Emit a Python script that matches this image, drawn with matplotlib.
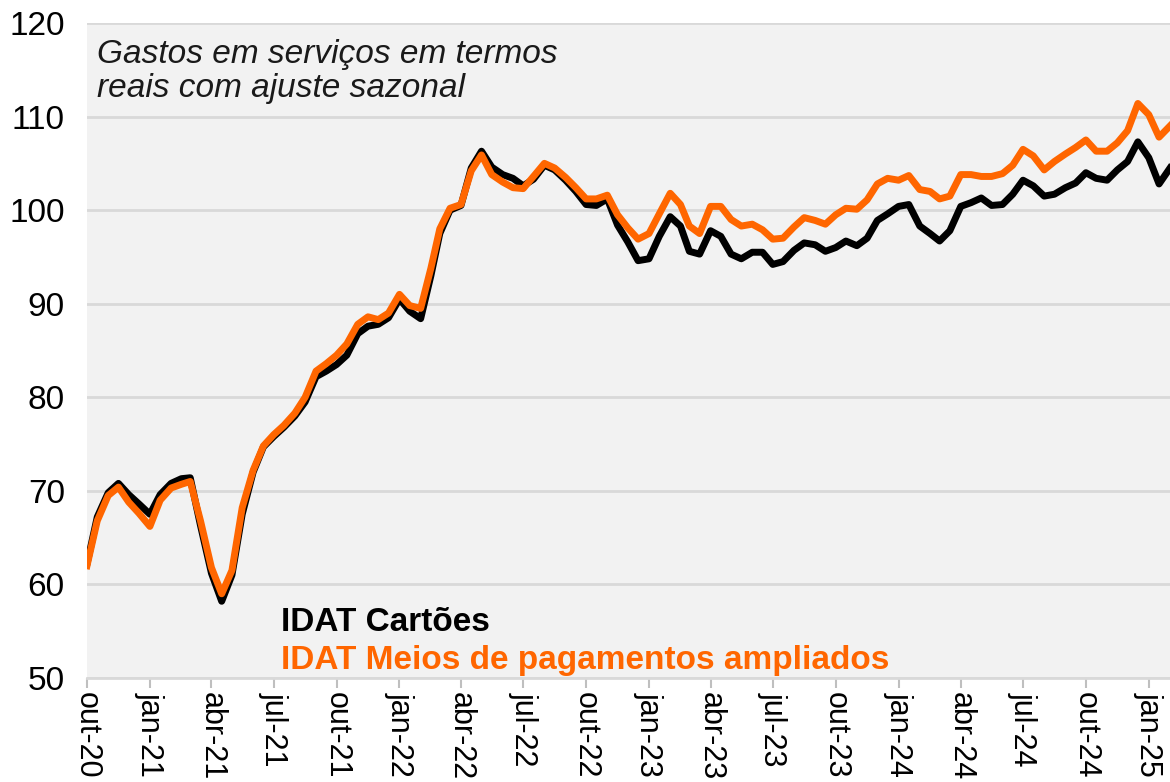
import matplotlib
matplotlib.use("Agg")
import matplotlib.pyplot as plt
import numpy as np
import pandas as pd

# ---- data ----
dates = pd.to_datetime([
    "2020-10-01", "2020-10-16", "2020-11-01", "2020-11-16", "2020-12-01", "2020-12-16",
    "2021-01-01", "2021-01-16", "2021-02-01", "2021-02-16", "2021-03-01", "2021-03-16",
    "2021-04-01", "2021-04-16", "2021-05-01", "2021-05-16", "2021-06-01", "2021-06-16",
    "2021-07-01", "2021-07-16", "2021-08-01", "2021-08-16", "2021-09-01", "2021-09-16",
    "2021-10-01", "2021-10-16", "2021-11-01", "2021-11-16", "2021-12-01", "2021-12-16",
    "2022-01-01", "2022-01-16", "2022-02-01", "2022-02-16", "2022-03-01", "2022-03-16",
    "2022-04-01", "2022-04-16", "2022-05-01", "2022-05-16", "2022-06-01", "2022-06-16",
    "2022-07-01", "2022-07-16", "2022-08-01", "2022-08-16", "2022-09-01", "2022-09-16",
    "2022-10-01", "2022-10-16", "2022-11-01", "2022-11-16", "2022-12-01", "2022-12-16",
    "2023-01-01", "2023-01-16", "2023-02-01", "2023-02-16", "2023-03-01", "2023-03-16",
    "2023-04-01", "2023-04-16", "2023-05-01", "2023-05-16", "2023-06-01", "2023-06-16",
    "2023-07-01", "2023-07-16", "2023-08-01", "2023-08-16", "2023-09-01", "2023-09-16",
    "2023-10-01", "2023-10-16", "2023-11-01", "2023-11-16", "2023-12-01", "2023-12-16",
    "2024-01-01", "2024-01-16", "2024-02-01", "2024-02-16", "2024-03-01", "2024-03-16",
    "2024-04-01", "2024-04-16", "2024-05-01", "2024-05-16", "2024-06-01", "2024-06-16",
    "2024-07-01", "2024-07-16", "2024-08-01", "2024-08-16", "2024-09-01", "2024-09-16",
    "2024-10-01", "2024-10-16", "2024-11-01", "2024-11-16", "2024-12-01", "2024-12-16",
    "2025-01-01", "2025-01-16", "2025-02-01",
])

idat_cartoes = [
    62.2, 67.2, 69.8, 70.8, 69.6, 68.6,
    67.5, 69.6, 70.8, 71.3, 71.4, 66.3,
    61.2, 58.2, 61.0, 67.5, 72.0, 74.7,
    75.8, 76.8, 78.0, 79.5, 82.2, 82.8,
    83.5, 84.5, 86.8, 87.6, 87.8, 88.5,
    90.5, 89.2, 88.4, 93.0, 97.5, 100.0,
    100.5, 104.5, 106.3, 104.6, 103.8, 103.4,
    102.6, 103.3, 104.8, 104.3, 103.2, 102.0,
    100.6, 100.5, 101.2, 98.4, 96.6, 94.6,
    94.8, 97.2, 99.3, 98.3, 95.6, 95.3,
    97.8, 97.2, 95.3, 94.8, 95.5, 95.5,
    94.2, 94.5, 95.7, 96.5, 96.3, 95.6,
    96.0, 96.7, 96.2, 97.0, 98.9, 99.6,
    100.4, 100.6, 98.3, 97.5, 96.7, 97.8,
    100.4, 100.8, 101.3, 100.5, 100.6, 101.7,
    103.2, 102.6, 101.5, 101.7, 102.4, 102.9,
    104.0, 103.4, 103.2, 104.3, 105.2, 107.3,
    105.6, 102.8, 104.5,
]

idat_ampliado = [
    62.0, 66.8, 69.5, 70.4, 68.8, 67.6,
    66.2, 69.0, 70.3, 70.7, 71.0, 66.8,
    61.8, 59.0, 61.5, 68.2, 72.2, 74.8,
    76.0, 77.0, 78.3, 80.0, 82.8, 83.6,
    84.5, 85.7, 87.8, 88.6, 88.3, 89.0,
    91.0, 89.8, 89.5, 93.8, 98.0, 100.2,
    100.6, 104.2, 105.9, 103.8, 103.0, 102.4,
    102.3, 103.6, 105.0, 104.5, 103.5, 102.4,
    101.2, 101.2, 101.6, 99.5, 98.1, 96.9,
    97.5, 99.6, 101.8, 100.6, 98.3, 97.5,
    100.4, 100.4, 99.0, 98.3, 98.5, 97.9,
    96.9, 97.0, 98.2, 99.2, 98.9, 98.5,
    99.5, 100.2, 100.1, 101.1, 102.8, 103.4,
    103.2, 103.7, 102.2, 102.0, 101.2, 101.5,
    103.8, 103.8, 103.6, 103.6, 103.9, 104.8,
    106.5, 105.8, 104.3, 105.2, 106.0, 106.7,
    107.5, 106.3, 106.3, 107.2, 108.5, 111.4,
    110.2, 107.8, 109.0,
]

tick_dates = pd.date_range("2020-10-01", "2025-01-01", freq="3MS")
tick_labels = ["out-20", "jan-21", "abr-21", "jul-21", "out-21", "jan-22", "abr-22",
               "jul-22", "out-22", "jan-23", "abr-23", "jul-23", "out-23", "jan-24",
               "abr-24", "jul-24", "out-24", "jan-25"]

series_names = ["IDAT Cartões", "IDAT Meios de pagamentos ampliados"]
note = "Gastos em serviços em termos\nreais com ajuste sazonal"

# ---- styling ----
plt.rcParams["font.family"] = ["Liberation Sans", "DejaVu Sans"]
BLACK = "#000000"
ORANGE = "#FF6600"

fig = plt.figure(figsize=(11.70, 7.82), dpi=100)
ax = fig.add_axes([87 / 1170, 1 - 678 / 782, 1 - 87 / 1170, (678 - 23) / 782])
ax.set_facecolor("#F2F2F2")

ax.plot(dates, idat_cartoes, color=BLACK, lw=5, solid_joinstyle="round", zorder=3)
ax.plot(dates, idat_ampliado, color=ORANGE, lw=5, solid_joinstyle="round", zorder=4)

ax.set_ylim(50, 120)
ax.set_yticks(np.arange(50, 121, 10))
ax.set_xlim(pd.Timestamp("2020-10-01"), pd.Timestamp("2025-02-01"))
ax.set_xticks(tick_dates)
ax.set_xticklabels(tick_labels, rotation=270, fontsize=22)

ax.grid(axis="y", color="#D9D9D9", lw=2)
ax.set_axisbelow(True)
for s in ["top", "right", "left"]:
    ax.spines[s].set_visible(False)
ax.spines["bottom"].set_color("#D9D9D9")
ax.spines["bottom"].set_linewidth(2)

ax.tick_params(axis="y", length=0, pad=16, labelsize=24)
ax.tick_params(axis="x", length=7, width=1.5, color="#BFBFBF", pad=3)

ax.text(0.009, 0.975, note, transform=ax.transAxes, ha="left", va="top",
        fontsize=24, style="italic", color="#1A1A1A", linespacing=1.1)

ax.text(0.179, 0.084, series_names[0], transform=ax.transAxes, ha="left", va="center",
        fontsize=24, fontweight="bold", color=BLACK)
ax.text(0.179, 0.027, series_names[1], transform=ax.transAxes, ha="left", va="center",
        fontsize=24, fontweight="bold", color=ORANGE)

fig.savefig("out.png", dpi=100)
